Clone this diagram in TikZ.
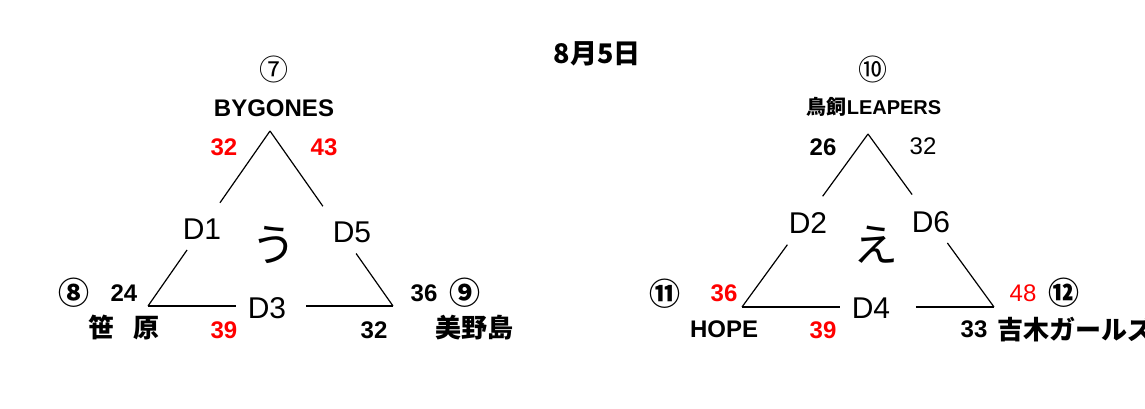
\documentclass[tikz,border=0pt]{standalone}
\usepackage{fontspec}
\setmainfont{Liberation Sans}
\newfontfamily\jpfont{Noto Sans CJK JP}
\usetikzlibrary{calc}

\begin{document}
\begin{tikzpicture}[
    x=1pt, y=-1pt,
    side/.style={line width=1.2pt},
    dlab/.style={inner sep=0pt, font=\fontsize{30}{30}\selectfont},
    grp/.style={inner sep=0pt, font=\jpfont\fontsize{45}{45}\selectfont},
    team/.style={inner sep=0pt, font=\bfseries\fontsize{24}{24}\selectfont},
    jteam/.style={inner sep=0pt, font=\jpfont\bfseries\fontsize{26}{26}\selectfont},
    pts/.style={inner sep=0pt, font=\bfseries\fontsize{24}{24}\selectfont},
    ptsthin/.style={inner sep=0pt, font=\fontsize{24}{24}\selectfont},
    ptsw/.style={pts, text=red},
    seed/.style={inner sep=0pt, font=\jpfont\bfseries\fontsize{31}{31}\selectfont},
    seedthin/.style={inner sep=0pt, font=\jpfont\fontsize{29}{29}\selectfont}
]
\useasboundingbox (0,0) rectangle (1145,409);

% Date
\node[inner sep=0pt, font=\jpfont\bfseries\fontsize{27}{27}\selectfont] (date) at (597,54) {8月5日};

% Group u
\coordinate (u-top) at (270,131);
\coordinate (u-left) at (148,306);
\coordinate (u-right) at (393,306);
\node[seedthin] (s7) at (274,69) {⑦};
\node[team] (bygones) at (274,108) {BYGONES};
\node[ptsw] (p7a) at (224,147) {32};
\node[ptsw] (p7b) at (324,147) {43};
\node[dlab] (d1) at (202,229) {D1};
\node[dlab] (d5) at (352,232) {D5};
\node[dlab] (d3) at (267,308) {D3};
\node[grp] (gu) at (274,245) {う};
\node[seed] (s8) at (74,293) {⑧};
\node[pts] (p8a) at (124,293) {24};
\node[jteam] (sasahara) at (124,328) {笹\kern20pt 原};
\node[ptsw] (p8b) at (224,330) {39};
\node[pts] (p9a) at (374,330) {32};
\node[pts] (p9b) at (424,293) {36};
\node[seed] (s9) at (465,293) {⑨};
\node[jteam] (minoshima) at (474,328) {美野島};

\draw[side] (u-top) -- ($(u-top)!0.41!(u-left)$);
\draw[side] ($(u-top)!0.68!(u-left)$) -- (u-left);
\draw[side] (u-top) -- ($(u-top)!0.43!(u-right)$);
\draw[side] ($(u-top)!0.70!(u-right)$) -- (u-right);
\draw[side] (u-left) -- ($(u-left)!0.36!(u-right)$);
\draw[side] ($(u-left)!0.645!(u-right)$) -- (u-right);

% Group e
\coordinate (e-top) at (868,134);
\coordinate (e-left) at (742,307);
\coordinate (e-right) at (994,307);
\node[seedthin] (s10) at (873,69) {⑩};
\node[inner sep=0pt, font=\bfseries\fontsize{20}{20}\selectfont] (leapers) at (874,107) {{\jpfont 鳥飼}LEAPERS};
\node[pts] (p10a) at (823,147) {26};
\node[ptsthin] (p10b) at (923,146) {32};
\node[dlab] (d2) at (808,223) {D2};
\node[dlab] (d6) at (931,222) {D6};
\node[grp] (ge) at (876,245) {え};
\node[dlab] (d4) at (871,308) {D4};
\node[seed] (s11) at (665,294) {⑪};
\node[ptsw] (p11a) at (724,293) {36};
\node[team] (hope) at (724,329) {HOPE};
\node[ptsw] (p11b) at (823,330) {39};
\node[ptsthin, text=red] (p12a) at (1023,293) {48};
\node[seed] (s12) at (1064,293) {⑫};
\node[pts] (p12b) at (974,329) {33};
\node[jteam, anchor=west] (yoshiki) at (997,329) {吉木ガールズ};

\draw[side] (e-top) -- ($(e-top)!0.36!(e-left)$);
\draw[side] ($(e-top)!0.64!(e-left)$) -- (e-left);
\draw[side] (e-top) -- ($(e-top)!0.35!(e-right)$);
\draw[side] ($(e-top)!0.63!(e-right)$) -- (e-right);
\draw[side] (e-left) -- ($(e-left)!0.39!(e-right)$);
\draw[side] ($(e-left)!0.69!(e-right)$) -- (e-right);
\end{tikzpicture}
\end{document}
